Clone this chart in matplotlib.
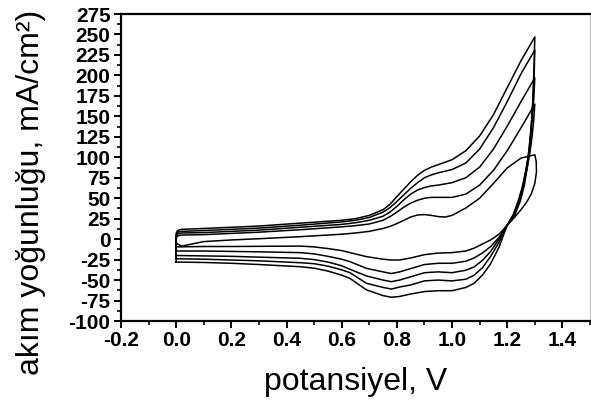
import matplotlib
matplotlib.use('Agg')
import matplotlib.pyplot as plt
from matplotlib.ticker import MultipleLocator

plt.rcParams['font.family'] = ['Liberation Sans', 'DejaVu Sans']
plt.rcParams['axes.unicode_minus'] = False

# anodic sweep, potential grid shared by all 5 cycles
anodic_v = [0.0, 0.0, 0.005, 0.02, 0.1, 0.2, 0.3, 0.45, 0.6, 0.65, 0.7, 0.75,
            0.775, 0.8, 0.825, 0.85, 0.875, 0.9, 0.925, 0.95, 0.975, 1.0,
            1.05, 1.1, 1.15, 1.2, 1.25, 1.3]
anodic_i1 = [-3, -4, -6, -8.5, -3, -1, 0.5, 3, 6, 7.5, 9.5, 13,
             15.5, 19, 23, 27, 29.5, 30, 29, 27.5, 27, 29,
             38, 50, 68, 87, 99, 103]
anodic_i2 = [-14.5, 1, 4, 5, 5.5, 7, 8.5, 11.5, 15, 16.5, 18.5, 23,
             27.5, 33, 39, 44, 47.5, 50, 51, 51, 51, 51,
             55, 66, 84, 108, 136, 165]
anodic_i3 = [-20, 3, 6.5, 7.5, 8, 9.5, 11, 14.5, 18, 20, 23, 28,
             33, 40, 48, 55, 60, 63, 65, 66, 67.5, 69,
             75, 88, 110, 138, 168, 197]
anodic_i4 = [-24, 5, 8.5, 9.5, 10.5, 12, 13.5, 17, 21, 23, 26.5, 33,
             38.5, 46, 54, 62, 69, 75, 78.5, 81, 83, 85,
             93, 110, 136, 168, 202, 231]
anodic_i5 = [-28, 7, 10.5, 12, 13, 14.5, 16, 19.5, 23, 25, 29, 36,
             42.5, 52, 61, 70, 78, 84, 88, 91, 94, 97,
             108, 126, 152, 185, 218, 247]

# reverse sweep just after the 1.3 V turn (different for every cycle)
top_v1 = [1.305, 1.306, 1.3, 1.287, 1.27, 1.25, 1.225]
top_i1 = [95, 82, 68, 55, 45, 36, 26]
top_v2 = [1.296, 1.29, 1.282, 1.272, 1.26, 1.246, 1.226]
top_i2 = [145, 125, 105, 87, 68, 50, 32]
top_v3 = [1.296, 1.29, 1.283, 1.276, 1.266, 1.254, 1.24, 1.222]
top_i3 = [170, 145, 120, 100, 82, 63, 47, 30]
top_v4 = [1.297, 1.292, 1.286, 1.279, 1.27, 1.258, 1.243, 1.224]
top_i4 = [195, 162, 135, 110, 87, 66, 47, 30]
top_v5 = [1.297, 1.293, 1.288, 1.282, 1.273, 1.262, 1.248, 1.228]
top_i5 = [210, 172, 140, 112, 88, 66, 47, 30]

# cathodic sweep from 1.2 V back to 0 V
cath_v = [1.2, 1.17, 1.14, 1.11, 1.08, 1.05, 1.0, 0.95, 0.9, 0.85, 0.81, 0.78,
          0.75, 0.69, 0.63, 0.6, 0.55, 0.5, 0.45, 0.3, 0.2, 0.1, 0.0]
cath_i1 = [17, 6, -1, -6, -11, -14.5, -16.5, -17, -19, -23, -25.5, -25.5,
           -24.5, -21.4, -16.5, -14, -11.5, -9.5, -8.5, -8.8, -9, -9, -9.5]
cath_i2 = [17, 2, -9, -17, -23, -27, -29.5, -29.5, -31, -36, -40, -42,
           -40, -35.7, -27.5, -24.5, -21, -18, -16.5, -15.5, -15, -14.5, -14.5]
cath_i3 = [17, 0, -15, -26, -34, -38, -41, -40, -41, -46, -50, -52,
           -50, -45, -36.8, -32.5, -28, -25, -23.4, -22, -21, -20.5, -20]
cath_i4 = [17, -4, -21, -35, -44, -49, -51, -50, -51, -56, -58.5, -61,
           -59, -54, -41, -37.5, -33, -30, -28.8, -26.5, -25.5, -24.5, -24]
cath_i5 = [17, -10, -30, -44, -54, -59, -63, -63, -64, -67, -70, -71,
           -69, -62, -48, -44, -39, -35.5, -33.7, -31, -29.5, -28.5, -28]

cycles = [
    (anodic_i1, top_v1, top_i1, cath_i1),
    (anodic_i2, top_v2, top_i2, cath_i2),
    (anodic_i3, top_v3, top_i3, cath_i3),
    (anodic_i4, top_v4, top_i4, cath_i4),
    (anodic_i5, top_v5, top_i5, cath_i5),
]

fig = plt.figure(figsize=(5.91, 4.07), dpi=100)
ax = fig.add_axes([0.2047, 0.2113, 0.7936, 0.7543])

for an_i, tv, ti, ca_i in cycles:
    v = anodic_v + tv + cath_v
    i = an_i + ti + ca_i
    ax.plot(v, i, color='black', lw=1.1)

ax.set_xlim(-0.2, 1.5)
ax.set_ylim(-100, 275)
ax.set_xticks([-0.2, 0.0, 0.2, 0.4, 0.6, 0.8, 1.0, 1.2, 1.4])
ax.set_xticklabels(['-0.2', '0.0', '0.2', '0.4', '0.6', '0.8', '1.0', '1.2', '1.4'])
ax.xaxis.set_minor_locator(MultipleLocator(0.1))
ax.yaxis.set_major_locator(MultipleLocator(25))
ax.yaxis.set_minor_locator(MultipleLocator(12.5))

for s in ['left', 'bottom', 'top']:
    ax.spines[s].set_linewidth(1.6)
ax.spines['right'].set_linewidth(1.0)
ax.spines['right'].set_color('#c8c8c8')

ax.tick_params(which='major', direction='out', length=5, width=1.4,
               labelsize=15, pad=2.5)
ax.tick_params(which='minor', direction='out', length=3, width=1.2)
for lab in ax.get_xticklabels() + ax.get_yticklabels():
    lab.set_fontweight('bold')

ax.set_xlabel('potansiyel, V', fontsize=23)
ax.set_ylabel('akım yoğunluğu, mA/cm²)', fontsize=23)
ax.xaxis.set_label_coords(0.5, -0.15)
ax.yaxis.set_label_coords(-0.16, 0.42)

fig.savefig('out.png', dpi=100)
